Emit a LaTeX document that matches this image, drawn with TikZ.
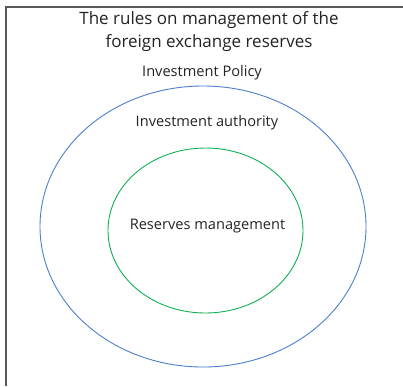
\documentclass[tikz,border=0pt]{standalone}
\usepackage{fontspec}
\setmainfont{Open Sans}
\definecolor{ringblue}{RGB}{74,128,204}
\definecolor{ringgreen}{RGB}{16,176,84}
\definecolor{textgrey}{RGB}{35,35,35}
\begin{document}
\begin{tikzpicture}[x=1pt,y=-1pt,
  frameline/.style={draw=black!65,line width=1.6pt},
  label/.style={text=textgrey,inner sep=0pt,align=center}]
\useasboundingbox (0,0) rectangle (403,386);
% open frame: left and top edges only
\coordinate (fbl) at (6,386);
\coordinate (ftl) at (6,7);
\coordinate (ftr) at (403,7);
\draw[frameline] (fbl) -- (ftl) -- (ftr);
% nested policy levels
\draw[draw=ringblue,line width=0.9pt] (203,226.5) ellipse [x radius=163, y radius=140.5];
\draw[draw=ringgreen,line width=0.9pt] (205.5,230.5) ellipse [x radius=97.5, y radius=82.5];
% texts
\node[label,font=\fontsize{17}{23}\selectfont] (title) at (209,31.5)
  {The rules on management of the\\foreign exchange reserves};
\node[label,font=\fontsize{14.6}{17}\selectfont] (policy) at (202,73) {Investment Policy};
\node[label,font=\fontsize{14.6}{17}\selectfont] (authority) at (207,123) {Investment authority};
\node[label,font=\fontsize{14.6}{17}\selectfont] (reserves) at (207.5,226) {Reserves management};
\end{tikzpicture}
\end{document}
